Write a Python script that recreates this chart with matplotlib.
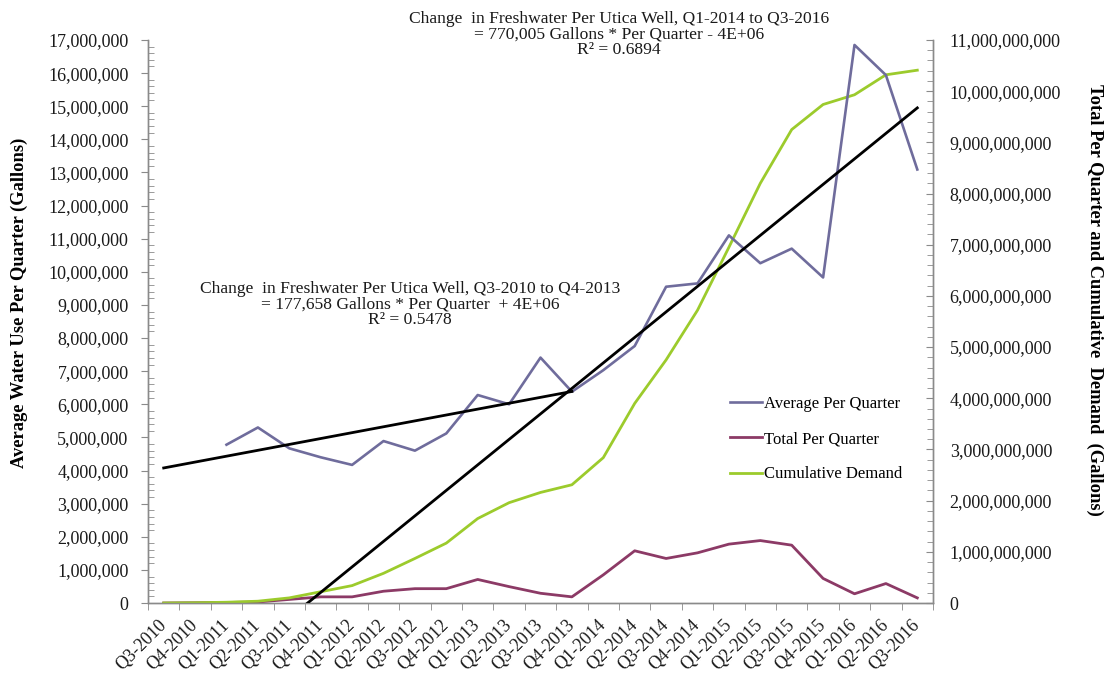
import numpy as np
import matplotlib
matplotlib.use("Agg")
import matplotlib.pyplot as plt
from matplotlib.ticker import FuncFormatter, MultipleLocator, FixedLocator

quarters = ["Q3-2010", "Q4-2010", "Q1-2011", "Q2-2011", "Q3-2011", "Q4-2011",
            "Q1-2012", "Q2-2012", "Q3-2012", "Q4-2012", "Q1-2013", "Q2-2013",
            "Q3-2013", "Q4-2013", "Q1-2014", "Q2-2014", "Q3-2014", "Q4-2014",
            "Q1-2015", "Q2-2015", "Q3-2015", "Q4-2015", "Q1-2016", "Q2-2016",
            "Q3-2016"]

# Average per quarter (gallons, millions) - left axis
avg_per_quarter_m = [np.nan, np.nan, 4.78, 5.30, 4.67, 4.40, 4.17, 4.89, 4.60,
                     5.12, 6.28, 6.00, 7.41, 6.38, 7.03, 7.76, 9.55, 9.65,
                     11.10, 10.26, 10.70, 9.83, 16.85, 15.94, 13.09]

# Total per quarter (gallons, billions) - right axis
total_per_quarter_b = [0.0, 0.005, 0.01, 0.02, 0.07, 0.12, 0.12, 0.23, 0.28,
                       0.28, 0.46, 0.32, 0.19, 0.12, 0.55, 1.02, 0.87, 0.98,
                       1.15, 1.22, 1.13, 0.48, 0.18, 0.38, 0.10]

# Cumulative demand (gallons, billions) - right axis
cumulative_b = [0.0, 0.005, 0.015, 0.035, 0.10, 0.22, 0.34, 0.58, 0.87, 1.17,
                1.65, 1.96, 2.16, 2.31, 2.84, 3.90, 4.75, 5.72, 6.95, 8.20,
                9.25, 9.74, 9.93, 10.32, 10.41]

# Trend line coefficients (x = quarter number starting at 1)
trend1_slope, trend1_intercept = 177658, 3.9e6
trend1_range = (0, 13)
trend2_slope, trend2_intercept = 770005, -4.3e6
trend2_range = (0, 24)

trend1_text = ("Change  in Freshwater Per Utica Well, Q3-2010 to Q4-2013\n"
               "= 177,658 Gallons * Per Quarter  + 4E+06\nR\u00b2 = 0.5478")
trend2_text = ("Change  in Freshwater Per Utica Well, Q1-2014 to Q3-2016\n"
               "= 770,005 Gallons * Per Quarter - 4E+06\nR\u00b2 = 0.6894")

FONT = "Liberation Serif"
plt.rcParams["font.family"] = [FONT, "DejaVu Serif"]

W, H = 1107, 673
fig = plt.figure(figsize=(W / 100, H / 100), dpi=100)
ax = fig.add_axes([148 / W, 1 - 603 / H, (933 - 148) / W, (603 - 40) / H])
ax2 = ax.twinx()

x = np.arange(len(quarters))
avg = np.array(avg_per_quarter_m) * 1e6
total = np.array(total_per_quarter_b) * 1e9
cum = np.array(cumulative_b) * 1e9

c_avg = "#6f6c9c"
c_tot = "#8c3a66"
c_cum = "#9ccb2c"

l1, = ax.plot(x, avg, color=c_avg, lw=1.9, label="Average Per Quarter", zorder=3)
l2, = ax2.plot(x, total, color=c_tot, lw=2.0, label="Total Per Quarter", zorder=3)
l3, = ax2.plot(x, cum, color=c_cum, lw=2.0, label="Cumulative Demand", zorder=3)

# trend lines on the left axis
tx1 = np.array(trend1_range, dtype=float)
ax.plot(tx1, trend1_slope * (tx1 + 1) + trend1_intercept, color="black", lw=2.0, zorder=4)
tx2 = np.array(trend2_range, dtype=float)
ax.plot(tx2, trend2_slope * (tx2 + 1) + trend2_intercept, color="black", lw=2.0, zorder=4)

ax.set_zorder(ax2.get_zorder() + 1)
ax.patch.set_visible(False)

ax.set_xlim(-0.5, len(quarters) - 0.5)
ax.set_ylim(0, 17e6)
ax2.set_ylim(0, 11e9)

fmt = FuncFormatter(lambda v, p: f"{int(round(v)):,}")
ax.yaxis.set_major_locator(MultipleLocator(1e6))
ax.yaxis.set_minor_locator(MultipleLocator(2e5))
ax.yaxis.set_major_formatter(fmt)
ax2.yaxis.set_major_locator(MultipleLocator(1e9))
ax2.yaxis.set_minor_locator(MultipleLocator(2e8))
ax2.yaxis.set_major_formatter(fmt)

ax.set_xticks(x)
ax.set_xticklabels(quarters, rotation=45, ha="right", va="center",
                   rotation_mode="anchor", fontsize=13)
ax.xaxis.set_minor_locator(FixedLocator(np.arange(-0.5, len(quarters), 1.0)))
ax.tick_params(axis="x", which="major", length=0, pad=14)
ax.tick_params(axis="x", which="minor", length=5, color="#888888", direction="out")

spine_col = "#8a8a8a"
for a in (ax, ax2):
    a.spines["top"].set_visible(False)
    for s in ("left", "right", "bottom"):
        a.spines[s].set_color(spine_col)
        a.spines[s].set_linewidth(1.0)

ax.tick_params(axis="y", which="major", length=5, direction="out", color=spine_col,
               labelsize=13, pad=9)
ax.tick_params(axis="y", which="minor", length=4, direction="in", color=spine_col)
ax2.tick_params(axis="y", which="major", length=5, direction="in", color=spine_col,
                labelsize=13, pad=12)
ax2.tick_params(axis="y", which="minor", length=4, direction="in", color=spine_col)

for lab in ax.get_yticklabels() + ax2.get_yticklabels() + ax.get_xticklabels():
    lab.set_color("#1a1a1a")

fig.text(19 / W, 1 - 303 / H, "Average Water Use Per Quarter (Gallons)",
         rotation=90, ha="center", va="center", fontsize=13.3, fontweight="bold")
fig.text(1095 / W, 1 - 300 / H, "Total Per Quarter and Cumulative  Demand  (Gallons)",
         rotation=270, ha="center", va="center", fontsize=13.3, fontweight="bold")

fig.text(619 / W, 1 - 11 / H, trend2_text, ha="center", va="top",
         fontsize=12.6, linespacing=0.97, color="#1a1a1a")
fig.text(410 / W, 1 - 281 / H, trend1_text, ha="center", va="top",
         fontsize=12.6, linespacing=0.97, color="#1a1a1a")

leg = fig.legend(handles=[l1, l2, l3], loc="upper left",
                 bbox_to_anchor=(730 / W, 1 - 396 / H), frameon=False,
                 fontsize=12, handlelength=1.9, handletextpad=0.15,
                 labelspacing=1.15, borderaxespad=0, borderpad=0)

fig.savefig("out.png", dpi=100)
